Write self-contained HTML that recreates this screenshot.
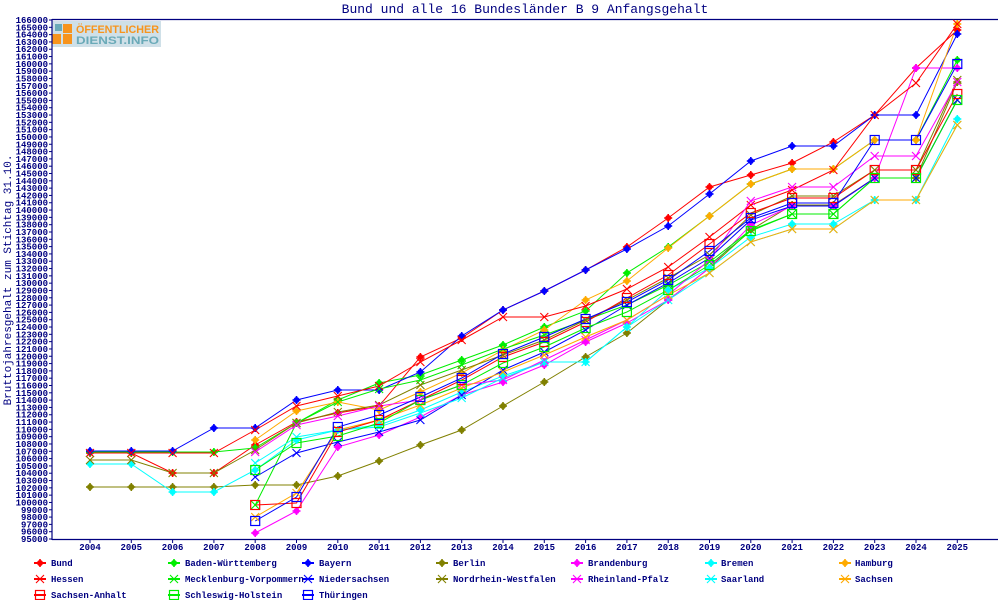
<!DOCTYPE html>
<html><head><meta charset="utf-8"><style>
html,body{margin:0;padding:0;background:#fff;}
svg{display:block;font-family:"Liberation Mono","DejaVu Sans Mono",monospace;}
.t{fill:#000080;font-weight:bold;}
</style></head><body>
<svg id="s" width="1000" height="600" viewBox="0 0 1000 600" xmlns="http://www.w3.org/2000/svg">
<rect width="1000" height="600" fill="#fff"/>
<text x="525" y="13" class="t" font-size="13" text-anchor="middle" style="font-weight:normal">Bund und alle 16 Bundesländer B 9 Anfangsgehalt</text>
<text transform="translate(11,280) rotate(-90)" class="t" font-size="11" text-anchor="middle" style="font-weight:normal">Bruttojahresgehalt zum Stichtag 31.10.</text>
<g id="logo">
<rect x="52" y="21" width="109" height="26" fill="#cfe0e8"/>
<rect x="55" y="24" width="7" height="7" fill="#6aaab8"/>
<rect x="63" y="24" width="9" height="9" fill="#f7941d"/>
<rect x="52" y="34" width="9" height="10" fill="#f7941d"/>
<rect x="63" y="34" width="9" height="10" fill="#f7941d"/>
<text x="76" y="33" font-size="11" font-weight="bold" fill="#f7941d" textLength="83" lengthAdjust="spacingAndGlyphs" font-family="Liberation Sans, sans-serif">ÖFFENTLICHER</text>
<text x="76" y="44" font-size="11" font-weight="bold" fill="#6aaab8" textLength="83" lengthAdjust="spacingAndGlyphs" font-family="Liberation Sans, sans-serif">DIENST.INFO</text>
</g>
<g stroke="#000080" stroke-width="1.2" fill="none">
<line x1="52" y1="19.5" x2="998" y2="19.5"/>
<line x1="52" y1="19" x2="52" y2="540"/>
<line x1="52" y1="539.5" x2="998" y2="539.5"/>
</g>
<g id="yt" stroke="#000080" stroke-width="1"></g>
<text class="t" font-size="9" text-anchor="end"><tspan x="48" y="23">166000</tspan><tspan x="48" dy="7.31">165000</tspan><tspan x="48" dy="7.31">164000</tspan><tspan x="48" dy="7.31">163000</tspan><tspan x="48" dy="7.31">162000</tspan><tspan x="48" dy="7.31">161000</tspan><tspan x="48" dy="7.31">160000</tspan><tspan x="48" dy="7.31">159000</tspan><tspan x="48" dy="7.31">158000</tspan><tspan x="48" dy="7.31">157000</tspan><tspan x="48" dy="7.31">156000</tspan><tspan x="48" dy="7.31">155000</tspan><tspan x="48" dy="7.31">154000</tspan><tspan x="48" dy="7.31">153000</tspan><tspan x="48" dy="7.31">152000</tspan><tspan x="48" dy="7.31">151000</tspan><tspan x="48" dy="7.31">150000</tspan><tspan x="48" dy="7.31">149000</tspan><tspan x="48" dy="7.31">148000</tspan><tspan x="48" dy="7.31">147000</tspan><tspan x="48" dy="7.31">146000</tspan><tspan x="48" dy="7.31">145000</tspan><tspan x="48" dy="7.31">144000</tspan><tspan x="48" dy="7.31">143000</tspan><tspan x="48" dy="7.31">142000</tspan><tspan x="48" dy="7.31">141000</tspan><tspan x="48" dy="7.31">140000</tspan><tspan x="48" dy="7.31">139000</tspan><tspan x="48" dy="7.31">138000</tspan><tspan x="48" dy="7.31">137000</tspan><tspan x="48" dy="7.31">136000</tspan><tspan x="48" dy="7.31">135000</tspan><tspan x="48" dy="7.31">134000</tspan><tspan x="48" dy="7.31">133000</tspan><tspan x="48" dy="7.31">132000</tspan><tspan x="48" dy="7.31">131000</tspan><tspan x="48" dy="7.31">130000</tspan><tspan x="48" dy="7.31">129000</tspan><tspan x="48" dy="7.31">128000</tspan><tspan x="48" dy="7.31">127000</tspan><tspan x="48" dy="7.31">126000</tspan><tspan x="48" dy="7.31">125000</tspan><tspan x="48" dy="7.31">124000</tspan><tspan x="48" dy="7.31">123000</tspan><tspan x="48" dy="7.31">122000</tspan><tspan x="48" dy="7.31">121000</tspan><tspan x="48" dy="7.31">120000</tspan><tspan x="48" dy="7.31">119000</tspan><tspan x="48" dy="7.31">118000</tspan><tspan x="48" dy="7.31">117000</tspan><tspan x="48" dy="7.31">116000</tspan><tspan x="48" dy="7.31">115000</tspan><tspan x="48" dy="7.31">114000</tspan><tspan x="48" dy="7.31">113000</tspan><tspan x="48" dy="7.31">112000</tspan><tspan x="48" dy="7.31">111000</tspan><tspan x="48" dy="7.31">110000</tspan><tspan x="48" dy="7.31">109000</tspan><tspan x="48" dy="7.31">108000</tspan><tspan x="48" dy="7.31">107000</tspan><tspan x="48" dy="7.31">106000</tspan><tspan x="48" dy="7.31">105000</tspan><tspan x="48" dy="7.31">104000</tspan><tspan x="48" dy="7.31">103000</tspan><tspan x="48" dy="7.31">102000</tspan><tspan x="48" dy="7.31">101000</tspan><tspan x="48" dy="7.31">100000</tspan><tspan x="48" dy="7.31">99000</tspan><tspan x="48" dy="7.31">98000</tspan><tspan x="48" dy="7.31">97000</tspan><tspan x="48" dy="7.31">96000</tspan><tspan x="48" dy="7.31">95000</tspan></text>
<g id="xt" stroke="#000080" stroke-width="1"></g>
<text class="t" font-size="9" text-anchor="middle" y="550"><tspan x="90">2004</tspan><tspan x="131.3">2005</tspan><tspan x="172.6">2006</tspan><tspan x="213.9">2007</tspan><tspan x="255.2">2008</tspan><tspan x="296.5">2009</tspan><tspan x="337.8">2010</tspan><tspan x="379.1">2011</tspan><tspan x="420.4">2012</tspan><tspan x="461.7">2013</tspan><tspan x="503">2014</tspan><tspan x="544.3">2015</tspan><tspan x="585.6">2016</tspan><tspan x="626.9">2017</tspan><tspan x="668.2">2018</tspan><tspan x="709.5">2019</tspan><tspan x="750.8">2020</tspan><tspan x="792.1">2021</tspan><tspan x="833.4">2022</tspan><tspan x="874.7">2023</tspan><tspan x="916">2024</tspan><tspan x="957.3">2025</tspan></text>
<g id="series"></g>
<g id="leg"></g>
<g class="t" font-size="9">
<text x="51" y="566">Bund</text><text x="185" y="566">Baden-Württemberg</text><text x="319" y="566">Bayern</text><text x="453" y="566">Berlin</text><text x="588" y="566">Brandenburg</text><text x="721" y="566">Bremen</text><text x="855" y="566">Hamburg</text>
<text x="51" y="582">Hessen</text><text x="185" y="582">Mecklenburg-Vorpommern</text><text x="319" y="582">Niedersachsen</text><text x="453" y="582">Nordrhein-Westfalen</text><text x="588" y="582">Rheinland-Pfalz</text><text x="721" y="582">Saarland</text><text x="855" y="582">Sachsen</text>
<text x="51" y="598">Sachsen-Anhalt</text><text x="185" y="598">Schleswig-Holstein</text><text x="319" y="598">Thüringen</text>
</g>
</svg>
<script>
(function(){
var NS="http://www.w3.org/2000/svg";
function el(p,n,a){var e=document.createElementNS(NS,n);for(var k in a)e.setAttribute(k,a[k]);p.appendChild(e);return e;}
var yt=document.getElementById('yt');
for(var i=0;i<=71;i++){var y=20+i*7.31;el(yt,'line',{x1:49,y1:y,x2:52,y2:y});}
var xt=document.getElementById('xt');
for(var i=0;i<22;i++){var x=90+i*41.3;el(xt,'line',{x1:x,y1:539,x2:x,y2:543});}
var N=null;
var S=[
["#ff0000","f",[453,453,473,473,445,422,413,406,357,338,310,291,270,247,218,187,175,163,142,115,68,30]],
["#00ee00","f",[452,452,452,452,448,423,400,383,375,360,345,327,311,273,247,216,184,169,169,140,140,60]],
["#0000ff","f",[451,451,451,428,428,400,390,390,372,336,310,291,270,249,226,194,161,146,146,115,115,34]],
["#808000","f",[487,487,487,487,485,485,476,461,445,430,406,382,357,333,300,268,230,205,205,178,178,82]],
["#ff00ff","f",[N,N,N,N,533,511,447,435,417,395,382,365,342,323,300,268,225,206,206,178,68,68]],
["#00ffff","f",[464,464,492,492,470,440,430,425,410,392,376,362,362,327,290,268,237,224,224,200,200,119]],
["#ffaa00","f",[N,N,N,N,440,411,402,410,392,373,350,330,300,281,248,216,184,169,169,140,140,24]],
["#ff0000","x",[453,453,453,453,430,406,396,386,362,340,317,317,306,289,267,237,205,190,170,115,83,24]],
["#00ee00","x",[N,N,N,N,505,423,402,389,380,365,349,335,320,305,285,262,230,214,214,178,178,100]],
["#0000ff","x",[N,N,N,N,477,453,442,432,420,395,370,352,330,305,283,258,220,206,206,178,178,100]],
["#808000","x",[460,460,473,473,450,423,412,405,385,370,355,340,320,300,278,255,215,196,196,170,170,80]],
["#ff00ff","x",[N,N,N,N,452,425,416,406,400,385,380,360,340,320,295,260,201,187,187,156,156,82]],
["#00ffff","x",[N,N,N,N,463,437,430,427,413,398,378,362,362,327,300,273,242,229,229,200,200,125]],
["#ffaa00","x",[N,N,N,N,517,493,430,420,405,388,372,355,337,320,295,273,242,229,229,200,200,125]],
["#ff0000","s",[N,N,N,N,505,503,432,420,400,380,357,342,322,298,275,244,213,198,198,170,170,94]],
["#00ee00","s",[N,N,N,N,470,443,436,423,400,385,363,347,328,312,290,265,231,214,214,178,178,100]],
["#0000ff","s",[N,N,N,N,521,497,427,415,397,378,354,337,319,302,280,251,218,203,203,140,140,64]]
];
function mark(g,t,c,x,y){
 if(t=="f"){el(g,'circle',{cx:x,cy:y,r:3,fill:c});el(g,'rect',{x:x-0.8,y:y-4,width:1.6,height:8,fill:c});el(g,'rect',{x:x-4,y:y-0.8,width:8,height:1.6,fill:c});}
 else if(t=="x"){var d=4;el(g,'path',{d:"M"+(x-d)+" "+(y-d)+"L"+(x+d)+" "+(y+d)+"M"+(x+d)+" "+(y-d)+"L"+(x-d)+" "+(y+d),stroke:c,'stroke-width':1.1,fill:'none'});}
 else {el(g,'rect',{x:x-4.5,y:y-4.5,width:9,height:9,stroke:c,'stroke-width':1.2,fill:'none'});}
}
var g=document.getElementById('series');
S.forEach(function(s){
 var d="",first=true;
 s[2].forEach(function(v,i){if(v===null)return;var x=90+i*41.3;d+=(first?"M":"L")+x.toFixed(1)+" "+v;first=false;});
 el(g,'path',{d:d,stroke:s[0],'stroke-width':1,fill:'none'});
});
S.forEach(function(s){s[2].forEach(function(v,i){if(v===null)return;mark(g,s[1],s[0],90+i*41.3,v);});});
var lg=document.getElementById('leg');
var cx=[40,174,308,442,577,711,845];
S.forEach(function(s,i){var c=cx[i%7],y=563+Math.floor(i/7)*16;el(lg,'line',{x1:c-6,y1:y,x2:c+6,y2:y,stroke:s[0],'stroke-width':2});mark(lg,s[1],s[0],c,y);});
})();
</script>
</body></html>
